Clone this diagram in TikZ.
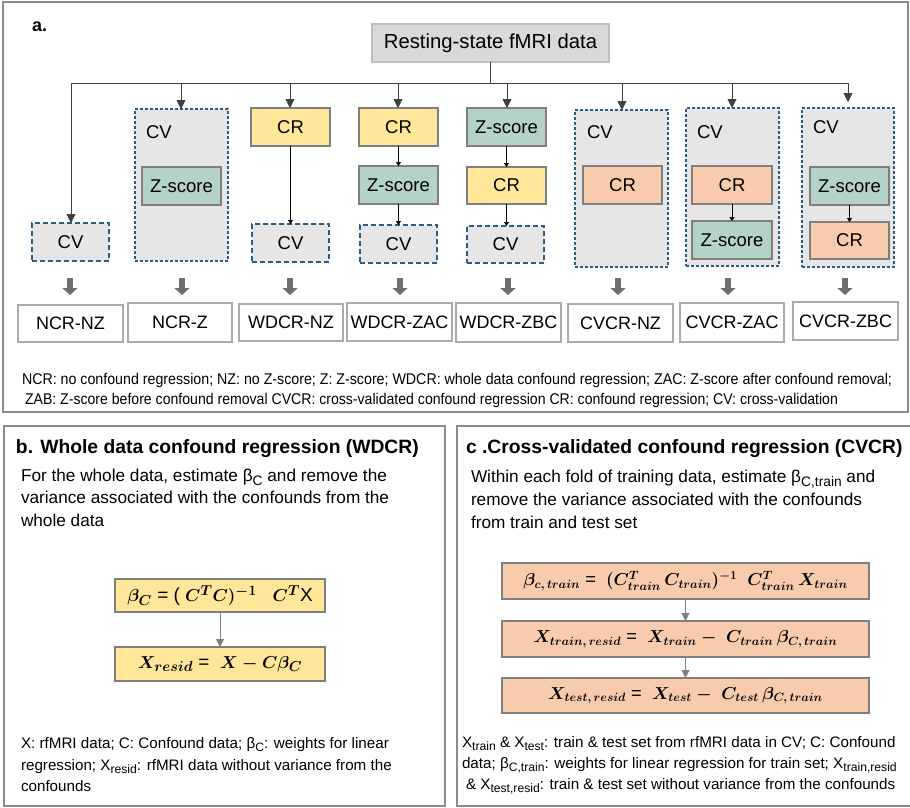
\documentclass[tikz,border=0pt]{standalone}
\usepackage{fontspec}
\setmainfont{Liberation Sans}
\usetikzlibrary{arrows.meta}
\definecolor{dashblue}{HTML}{2E5A87}
\definecolor{cvgray}{HTML}{E7E6E6}
\definecolor{rsgray}{HTML}{D9D9D9}
\definecolor{rsborder}{HTML}{BFBFBF}
\definecolor{cryellow}{HTML}{FFE699}
\definecolor{zgreen}{HTML}{B4D2C6}
\definecolor{crorange}{HTML}{F8CBAD}
\definecolor{boxborder}{HTML}{7F7F7F}
\definecolor{panelgray}{HTML}{8C8C8C}
\definecolor{resborder}{HTML}{ABABAB}
\definecolor{linegray}{HTML}{404040}
\definecolor{blockgray}{HTML}{6E6E6E}
\newcommand\lsub[1]{\raisebox{-0.45ex}{\scalebox{0.8}{#1}}}
\tikzset{
  base/.style={inner sep=0pt, outer sep=0pt},
  solidbox/.style={base, draw=boxborder, line width=1.2pt, font=\fontsize{18.5}{20}\selectfont},
  crbox/.style={solidbox, fill=cryellow},
  zbox/.style={solidbox, fill=zgreen},
  cvcrbox/.style={solidbox, fill=crorange},
  cvsmall/.style={base, draw=dashblue, fill=cvgray, line width=1.3pt, dash pattern=on 5pt off 3pt, font=\fontsize{18.5}{20}\selectfont},
  cvbig/.style={base, draw=dashblue, fill=cvgray, line width=1.3pt, dash pattern=on 3pt off 2pt},
  cvlabel/.style={base, anchor=west, font=\fontsize{18.5}{20}\selectfont},
  resbox/.style={base, draw=resborder, line width=1.3pt, fill=white, font=\fontsize{18}{20}\selectfont},
  hubarrow/.style={draw=linegray, line width=0.9pt, -{Triangle[width=9pt,length=9pt]}},
  innerarrow/.style={draw=black, line width=0.7pt, -{Triangle[width=5pt,length=4pt]}},
  blockarrow/.style={draw=blockgray, line width=6pt, -{Triangle[width=15pt,length=7pt]}},
  panel/.style={draw=panelgray, line width=1.3pt},
  fbox/.style={base, draw=boxborder, line width=1.2pt, font=\fontsize{19}{20}\selectfont\boldmath},
  fcbox/.style={fbox, fill=crorange, font=\fontsize{18.3}{20}\selectfont\boldmath},
  farrow/.style={draw=boxborder, line width=1pt, -{Triangle[width=8pt,length=8pt]}},
  bodytext/.style={base, anchor=base west, font=\fontsize{17.2}{20}\selectfont},
  legtext/.style={base, anchor=base west, font=\fontsize{15.2}{18}\selectfont},
  titletext/.style={base, anchor=base west, font=\fontsize{19.3}{20}\selectfont\bfseries},
}
\begin{document}
\begin{tikzpicture}[x=1pt,y=-1pt]
\useasboundingbox[fill=white] (0,0) rectangle (910,807);

% ---------- panel frames ----------
\draw[panel] (3,2) rectangle (908,412);
\draw[panel] (4,426) rectangle (445,806);
\draw[panel] (915,426) -- (457,426) -- (457,806) -- (915,806);

% ---------- panel a ----------
\node[base, anchor=base west, font=\fontsize{18}{20}\selectfont\bfseries] (alabel) at (32,31) {a.};
\node[base, draw=rsborder, fill=rsgray, line width=1.3pt, minimum width=237pt, minimum height=38pt,
      font=\fontsize{20.3}{22}\selectfont] (rs) at (490.5,43) {Resting-state fMRI data};

\coordinate (hub) at (490,83);
\coordinate (h1) at (71,83);
\coordinate (h2) at (181,83);
\coordinate (h3) at (290,83);
\coordinate (h4) at (398,83);
\coordinate (h5) at (507,83);
\coordinate (h6) at (622,83);
\coordinate (h7) at (732,83);
\coordinate (h8) at (848,83);
\draw[draw=linegray, line width=0.9pt] (rs.south -| hub) -- (hub);
\draw[draw=linegray, line width=0.9pt] (h1) -- (h8);

% column 1
\node[cvsmall, minimum width=77pt, minimum height=38pt] (cv1) at (70.5,242) {CV};
% column 2
\node[cvbig, minimum width=93pt, minimum height=152pt] (big2) at (181.5,185) {};
\node[cvlabel] (cvl2) at (146,132) {CV};
\node[zbox, minimum width=79pt, minimum height=38pt] (z2) at (181.5,186) {Z-score};
% column 3
\node[crbox, minimum width=79pt, minimum height=38pt] (cr3) at (290.5,127) {CR};
\node[cvsmall, minimum width=77pt, minimum height=38pt] (cv3) at (290.5,243) {CV};
% column 4
\node[crbox, minimum width=79pt, minimum height=38pt] (cr4) at (398.5,127) {CR};
\node[zbox, minimum width=79pt, minimum height=38pt] (z4) at (398.5,185) {Z-score};
\node[cvsmall, minimum width=77pt, minimum height=38pt] (cv4) at (398.5,244) {CV};
% column 5
\node[zbox, minimum width=79pt, minimum height=38pt] (z5) at (506.5,127) {Z-score};
\node[crbox, minimum width=79pt, minimum height=37pt] (cr5) at (506.5,185.5) {CR};
\node[cvsmall, minimum width=77pt, minimum height=37pt] (cv5) at (505.5,244.5) {CV};
% column 6
\node[cvbig, minimum width=93pt, minimum height=157pt] (big6) at (621.5,188.5) {};
\node[cvlabel] (cvl6) at (587,132) {CV};
\node[cvcrbox, minimum width=79pt, minimum height=38pt] (cr6) at (622.5,185) {CR};
% column 7
\node[cvbig, minimum width=93pt, minimum height=158pt] (big7) at (732.5,187) {};
\node[cvlabel] (cvl7) at (697,132) {CV};
\node[cvcrbox, minimum width=80pt, minimum height=38pt] (cr7) at (732,185) {CR};
\node[zbox, minimum width=80pt, minimum height=38pt] (z7) at (732,240) {Z-score};
% column 8
\node[cvbig, minimum width=92pt, minimum height=159pt] (big8) at (848,187.5) {};
\node[cvlabel] (cvl8) at (813,127) {CV};
\node[zbox, minimum width=79pt, minimum height=38pt] (z8) at (849.5,186) {Z-score};
\node[cvcrbox, minimum width=79pt, minimum height=37pt] (cr8) at (849.5,240.5) {CR};
\coordinate (a8) at (848,102);

% hub arrows
\draw[hubarrow] (h1) -- (h1 |- cv1.north);
\draw[hubarrow] (h2) -- (h2 |- big2.north);
\draw[hubarrow] (h3) -- (h3 |- cr3.north);
\draw[hubarrow] (h4) -- (h4 |- cr4.north);
\draw[hubarrow] (h5) -- (h5 |- z5.north);
\draw[hubarrow] (h6) -- (h6 |- big6.north);
\draw[hubarrow] (h7) -- (h7 |- big7.north);
\draw[hubarrow] (h8) -- (a8);

% inner arrows
\draw[innerarrow] (cr3.south) -- (cv3.north -| cr3.south);
\draw[innerarrow] (cr4.south) -- (z4.north);
\draw[innerarrow] (z4.south) -- (cv4.north -| z4.south);
\draw[innerarrow] (z5.south) -- (cr5.north);
\draw[innerarrow] (cr5.south) -- (cv5.north -| cr5.south);
\draw[innerarrow] (cr7.south) -- (z7.north);
\draw[innerarrow] (z8.south) -- (cr8.north);

% result boxes
\node[resbox, minimum width=105pt, minimum height=37pt] (r1) at (70.5,323.5) {NCR-NZ};
\node[resbox, minimum width=104pt, minimum height=39pt] (r2) at (180,322.5) {NCR-Z};
\node[resbox, minimum width=104pt, minimum height=37pt] (r3) at (291,322.5) {WDCR-NZ};
\node[resbox, minimum width=105pt, minimum height=38pt] (r4) at (399.5,322) {WDCR-ZAC};
\node[resbox, minimum width=105pt, minimum height=39pt] (r5) at (508.5,322.5) {WDCR-ZBC};
\node[resbox, minimum width=105pt, minimum height=38pt] (r6) at (620.5,323) {CVCR-NZ};
\node[resbox, minimum width=104pt, minimum height=39pt] (r7) at (732,322.5) {CVCR-ZAC};
\node[resbox, minimum width=105pt, minimum height=38pt] (r8) at (845.5,321) {CVCR-ZBC};

% block arrows
\foreach \i/\x in {1/70,2/182,3/290,4/400,5/508,6/618,7/728,8/845}{
  \coordinate (t\i) at (\x,278);
  \coordinate (b\i) at (\x,295);
  \draw[blockarrow] (t\i) -- (b\i);
}

% legend a
\node[legtext, font=\fontsize{15.5}{18}\selectfont] (lega1) at (22,384)
  {\resizebox{870pt}{\height}{NCR: no confound regression; NZ: no Z-score; Z: Z-score; WDCR: whole data confound regression; ZAC: Z-score after confound removal;}};
\node[legtext, font=\fontsize{15.5}{18}\selectfont] (lega2) at (25,404)
  {\resizebox{813pt}{\height}{ZAB: Z-score before confound removal CVCR: cross-validated confound regression CR: confound regression; CV: cross-validation}};

% ---------- panel b ----------
\node[titletext] (titb) at (16,453) {b. Whole data confound regression (WDCR)};
\node[bodytext] (bb1) at (21,481) {For the whole data, estimate β\lsub{C} and remove the};
\node[bodytext] (bb2) at (21,503.5) {variance associated with the confounds from the};
\node[bodytext] (bb3) at (21,526) {whole data};

\node[fbox, fill=cryellow, minimum width=210pt, minimum height=33pt] (fb1) at (220,595.5)
  {$\beta_C$ = ( $C^TC)^{-1}$\ \ \ $C^T$X};
\node[fbox, fill=cryellow, minimum width=210pt, minimum height=34pt] (fb2) at (220,664)
  {$X_{resid}$ = \ $X - C\beta_C$};
\draw[farrow] (fb1.south) -- (fb2.north);

\node[legtext] (lb1) at (21,748) {X: rfMRI data; C: Confound data; β\lsub{C}: weights for linear};
\node[legtext] (lb2) at (21,770) {regression; X\lsub{resid}: rfMRI data without variance from the};
\node[legtext] (lb3) at (21,791) {confounds};

% ---------- panel c ----------
\node[titletext] (titc) at (466,453) {c .Cross-validated confound regression (CVCR)};
\node[bodytext] (cb1) at (471,482) {Within each fold of training data, estimate β\lsub{C,train} and};
\node[bodytext] (cb2) at (471,505) {remove the variance associated with the confounds};
\node[bodytext] (cb3) at (471,528) {from train and test set};

\node[fcbox, minimum width=367pt, minimum height=36pt] (fc1) at (685.5,581)
  {$\beta_{c,\,train}$ = \ $(C^T_{train}\,C_{train})^{-1}$\ \ $C^T_{train}\,X_{train}$};
\node[fcbox, minimum width=367pt, minimum height=36pt] (fc2) at (685.5,639)
  {$X_{train,\,resid}$ = \ $X_{train} -\ C_{train}\,\beta_{C,\,train}$};
\node[fcbox, minimum width=367pt, minimum height=35pt] (fc3) at (685.5,695.5)
  {$X_{test,\,resid}$ = \ $X_{test} -\ C_{test}\,\beta_{C,\,train}$};
\draw[farrow] (fc1.south) -- (fc2.north);
\draw[farrow] (fc2.south) -- (fc3.north);

\node[legtext] (lc1) at (462,747) {X\lsub{train} \& X\lsub{test}: train \& test set from rfMRI data in CV; C: Confound};
\node[legtext] (lc2) at (462,768) {data; β\lsub{C,train}: weights for linear regression for train set; X\lsub{train,resid}};
\node[legtext] (lc3) at (466,789) {\& X\lsub{test,resid}: train \& test set without variance from the confounds};
\end{tikzpicture}
\end{document}
